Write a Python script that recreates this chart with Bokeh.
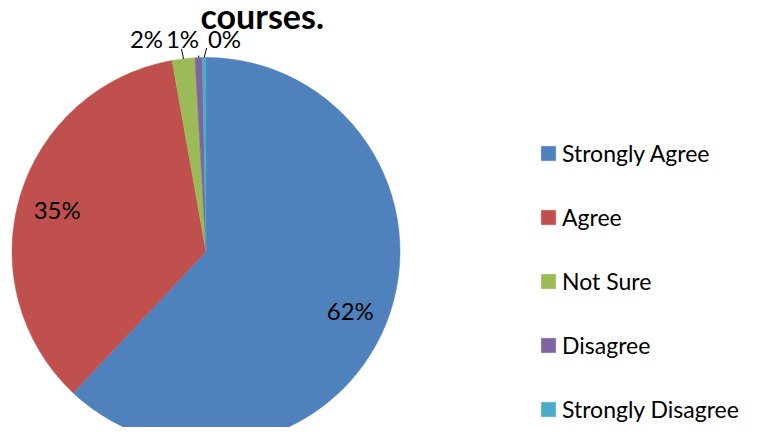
import math
from bokeh.plotting import figure
from bokeh.models import Range1d, Legend, LegendItem, ColumnDataSource
from bokeh.core.properties import value
from bokeh.embed import file_html
from bokeh.resources import INLINE

# ---- data ----
categories = ["Strongly Agree", "Agree", "Not Sure", "Disagree", "Strongly Disagree"]
percent_values = [62.0, 35.2, 1.9, 0.6, 0.3]
colors = ["#4F81BD", "#C0504D", "#9BBB59", "#8064A2", "#4BACC6"]
title_text = "courses."

# ---- layout constants ----
W, H = 743, 427
IMG_H = 443
FONT = "Lato"


def Y(y_img):
    return IMG_H - y_img


CX, CY, R = 205.5, Y(251), 194.0

p = figure(width=W, height=H, x_range=Range1d(0, W), y_range=Range1d(IMG_H - H, IMG_H),
           output_backend="svg", toolbar_location=None, min_border=0)
p.axis.visible = False
p.grid.visible = False
p.outline_line_color = None
p.background_fill_color = "white"

total = sum(percent_values)
starts, ends, mids = [], [], []
cum = 0.0
for v in percent_values:
    a0 = math.pi / 2 - 2 * math.pi * cum / total
    cum += v
    a1 = math.pi / 2 - 2 * math.pi * cum / total
    starts.append(a0)
    ends.append(a1)
    mids.append((a0 + a1) / 2)

src = ColumnDataSource(dict(cat=categories, start=starts, end=ends, color=colors))
wr = p.wedge(x=CX, y=CY, radius=R, start_angle="start", end_angle="end",
             direction="clock", fill_color="color", line_color="color",
             line_width=0.5, source=src)

labels = [f"{round(v / total * 100)}%" for v in percent_values]

# inside labels for large slices
in_x, in_y, in_t = [], [], []
out_idx = []
for i, v in enumerate(percent_values):
    if v / total >= 0.05:
        in_x.append(CX + 0.8 * R * math.cos(mids[i]))
        in_y.append(CY + 0.8 * R * math.sin(mids[i]) - 2)
        in_t.append(labels[i])
    else:
        out_idx.append(i)
p.text(x=in_x, y=in_y, text=in_t, text_font=value(FONT), text_font_size="24px",
       text_align="center", text_baseline="middle", text_color="black")

# outside labels for tiny slices (spread above the pie like the reference)
out_dx = [-59.5, -23.5, 18.5]
out_x, out_y, out_t = [], [], []
lx0, ly0, lx1, ly1 = [], [], [], []
leader_off = [(-2, 10), (0, 2), (2.5, 9.5)]
for k, i in enumerate(out_idx):
    ex = CX + R * math.cos(mids[i])
    ey = CY + R * math.sin(mids[i])
    out_x.append(CX + out_dx[k])
    out_y.append(Y(38))
    out_t.append(labels[i])
    lx0.append(ex)
    ly0.append(ey)
    lx1.append(ex + leader_off[k][0])
    ly1.append(ey + leader_off[k][1])
p.text(x=out_x, y=out_y, text=out_t, text_font=value(FONT), text_font_size="24px",
       text_align="center", text_baseline="alphabetic", text_color="black")
p.segment(x0=lx0, y0=ly0, x1=lx1, y1=ly1, line_color="black", line_width=1)

# title (last line visible)
p.text(x=[200], y=[Y(15)], text=[title_text], text_font=value(FONT),
       text_font_style="bold", text_font_size="34px", text_baseline="alphabetic",
       text_align="left", text_color="black")

legend = Legend(
    items=[LegendItem(label=c, renderers=[wr], index=i) for i, c in enumerate(categories)],
    location=(539, 3), glyph_width=18, glyph_height=18, label_standoff=5,
    spacing=34, label_height=30, padding=0, margin=0, border_line_color=None,
    background_fill_alpha=0, label_text_font=FONT, label_text_font_size="23px",
    label_text_color="black", label_text_baseline="middle")
p.add_layout(legend)

open("out.html", "w").write(file_html(p, INLINE))
